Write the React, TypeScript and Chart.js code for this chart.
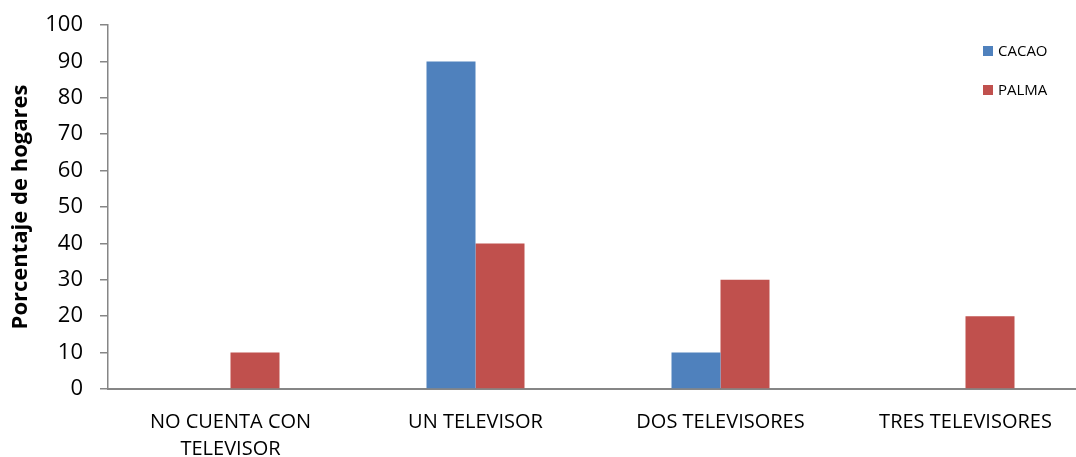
import React, { useEffect, useRef } from "react";
import { Chart, registerables } from "chart.js";

Chart.register(...registerables);

const categories: (string | string[])[] = [
  ["NO CUENTA CON", "TELEVISOR"],
  "UN TELEVISOR",
  "DOS TELEVISORES",
  "TRES TELEVISORES",
];
const cacao = [0, 90, 10, 0];
const palma = [10, 40, 30, 20];
const seriesNames = ["CACAO", "PALMA"];
const seriesColors = ["#4F81BD", "#C0504D"];
const yTitle = "Porcentaje de hogares";

const FONT = "'Open Sans', 'Noto Sans', sans-serif";
const AXIS = "#868686";

const legendPlugin = {
  id: "sideLegend",
  afterDraw(chart: any) {
    const ctx = chart.ctx;
    ctx.save();
    ctx.font = `15px ${FONT}`;
    ctx.textBaseline = "middle";
    ctx.textAlign = "left";
    chart.data.datasets.forEach((ds: any, i: number) => {
      const cy = 51 + i * 39;
      ctx.fillStyle = ds.backgroundColor;
      ctx.fillRect(983, cy - 5, 10, 10);
      ctx.fillStyle = "#000";
      ctx.fillText(ds.label, 998, cy + 1);
    });
    ctx.restore();
  },
};

export default function App() {
  const ref = useRef<HTMLCanvasElement>(null);
  useEffect(() => {
    if (!ref.current) return;
    const chart = new Chart(ref.current, {
      type: "bar",
      data: {
        labels: categories as any,
        datasets: [
          { label: seriesNames[0], data: cacao, backgroundColor: seriesColors[0] },
          { label: seriesNames[1], data: palma, backgroundColor: seriesColors[1] },
        ],
      },
      plugins: [legendPlugin],
      options: {
        animation: false,
        responsive: false,
        maintainAspectRatio: false,
        layout: { padding: { top: 25, right: 0, left: 0, bottom: 0 } },
        datasets: { bar: { categoryPercentage: 0.4, barPercentage: 1.0 } },
        plugins: { legend: { display: false }, tooltip: { enabled: false } },
        scales: {
          x: {
            grid: { display: false },
            border: { display: true, color: AXIS, width: 2 },
            ticks: {
              color: "#000",
              font: { family: FONT, size: 20, lineHeight: 1.35 },
              padding: 12,
              maxRotation: 0,
              autoSkip: false,
            },
            afterFit(scale: any) {
              scale.height = 68;
              scale.paddingLeft = 0;
              scale.paddingRight = 0;
            },
          },
          y: {
            min: 0,
            max: 100,
            ticks: {
              stepSize: 10,
              color: "#000",
              font: { family: FONT, size: 22 },
              padding: 17,
            },
            grid: {
              drawOnChartArea: false,
              drawTicks: true,
              tickLength: 8,
              color: AXIS,
              lineWidth: 1.5,
            },
            border: { display: true, color: AXIS, width: 1.5 },
            title: {
              display: true,
              text: yTitle,
              color: "#000",
              font: { family: FONT, size: 22, weight: "bold" },
              padding: { top: 8, bottom: 0 },
            },
            afterFit(scale: any) {
              scale.width = 108;
              scale.paddingTop = 0;
              scale.paddingBottom = 0;
            },
          },
        },
      },
    });
    return () => chart.destroy();
  }, []);
  return (
    <div style={{ position: "fixed", left: 0, top: 0, width: 1088, height: 457, background: "#fff" }}>
      <canvas ref={ref} width={1088} height={457} style={{ width: 1088, height: 457 }} />
    </div>
  );
}
